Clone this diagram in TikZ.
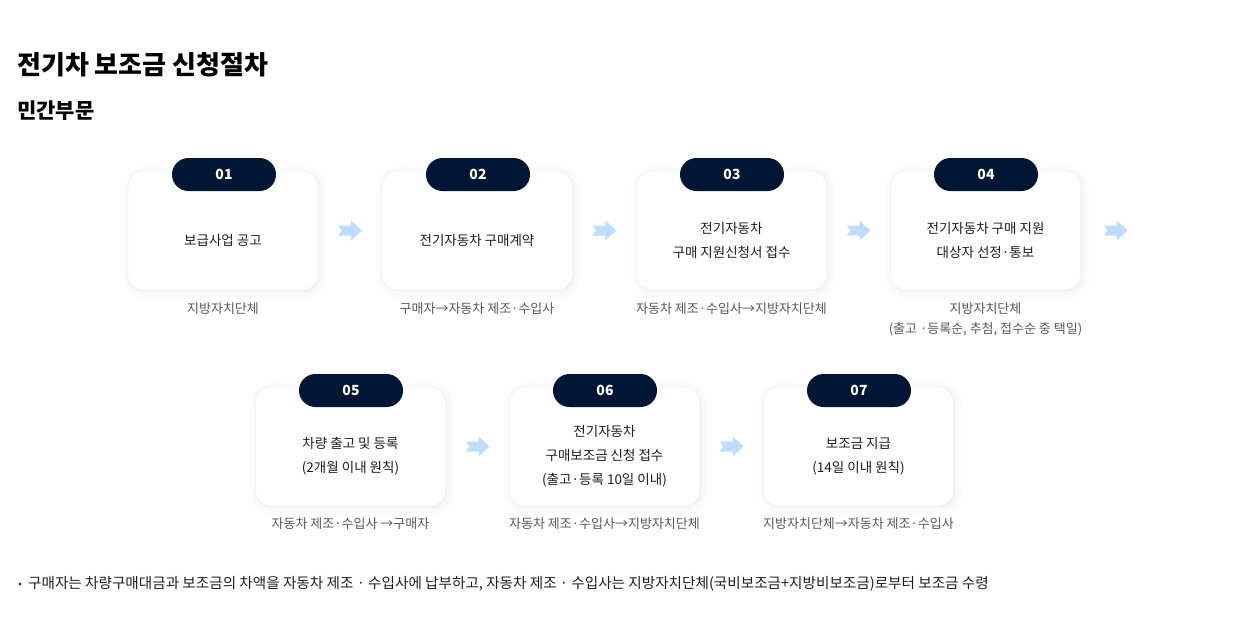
\documentclass[tikz,border=0pt]{standalone}
\usepackage{fontspec}
\setmainfont{Noto Sans CJK KR}
\usepackage{tikz}
\usetikzlibrary{positioning}
\usetikzlibrary{calc}
\usetikzlibrary{shadows.blur}
\definecolor{navy}{RGB}{1,22,52}
\definecolor{sky}{RGB}{190,221,255}
\definecolor{capgray}{RGB}{88,88,88}
\definecolor{ink}{RGB}{30,30,30}
\tikzset{every picture/.style={x=1pt,y=-1pt},
card/.style={draw=black!8,fill=white,rounded corners=15pt,minimum width=190pt,minimum height=119pt,blur shadow={shadow xshift=2pt,shadow yshift=-2pt,shadow blur radius=8pt,shadow opacity=8}},
tab/.style={fill=navy,text=white,rounded corners=16.5pt,minimum width=104pt,minimum height=33pt,inner sep=0pt,font=\fontsize{14}{16}\selectfont\bfseries},
cardtext/.style={align=center,text=ink,inner sep=0pt,font=\fontsize{13.5}{24}\selectfont},
caption/.style={align=center,text=capgray,inner sep=0pt,font=\fontsize{13}{20}\selectfont},
chev/.pic={\fill[sky] (-12,-5) -- (1,-5) -- (1,-10) -- (12,0) -- (1,10) -- (1,5) -- (-12,5) -- (-8,0) -- cycle;}}

\begin{document}
\begin{tikzpicture}
\useasboundingbox (0,0) rectangle (1245,635);
\node[anchor=west,inner sep=0pt,font=\fontsize{26}{30}\selectfont\bfseries] (title) at (17,65) {전기차 보조금 신청절차};
\node[anchor=west,inner sep=0pt,font=\fontsize{21}{24}\selectfont\bfseries] (sub) at (17,111) {민간부문};
% first row
\node[card] (b1) at (223,230.5) {};
\node[card] (b2) at (477,230.5) {};
\node[card] (b3) at (731.5,230.5) {};
\node[card] (b4) at (985.5,230.5) {};
\node[tab] (t1) at (224,174.5) {01};
\node[tab] (t2) at (478,174.5) {02};
\node[tab] (t3) at (732,174.5) {03};
\node[tab] (t4) at (986,174.5) {04};
\node[cardtext] at ($(b1.center)+(0,9.5)$) {보급사업 공고};
\node[cardtext] at ($(b2.center)+(0,9.5)$) {전기자동차 구매계약};
\node[cardtext] at ($(b3.center)+(0,9.5)$) {전기자동차\\구매 지원신청서 접수};
\node[cardtext] at ($(b4.center)+(0,9.5)$) {전기자동차 구매 지원\\대상자 선정·통보};
\node[caption,below=12pt of b1] (c1) {지방자치단체};
\node[caption,below=12pt of b2] (c2) {구매자→자동차 제조·수입사};
\node[caption,below=12pt of b3] (c3) {자동차 제조·수입사→지방자치단체};
\node[caption,below=12pt of b4] (c4) {지방자치단체\\(출고 ·등록순, 추첨, 접수순 중 택일)};
\pic at ($(b1.east)!0.5!(b2.west)$) {chev};
\pic at ($(b2.east)!0.5!(b3.west)$) {chev};
\pic at ($(b3.east)!0.5!(b4.west)$) {chev};
\pic at ($(b4.east)+(35,0)$) {chev};
% second row
\node[card] (b5) at (350.5,446.5) {};
\node[card] (b6) at (604.5,446.5) {};
\node[card] (b7) at (858.5,446.5) {};
\node[tab] (t5) at (351,390.5) {05};
\node[tab] (t6) at (605,390.5) {06};
\node[tab] (t7) at (859,390.5) {07};
\node[cardtext] at ($(b5.center)+(0,9.5)$) {차량 출고 및 등록\\(2개월 이내 원칙)};
\node[cardtext] at ($(b6.center)+(0,9.5)$) {전기자동차\\구매보조금 신청 접수\\(출고·등록 10일 이내)};
\node[cardtext] at ($(b7.center)+(0,9.5)$) {보조금 지급\\(14일 이내 원칙)};
\node[caption,below=11pt of b5] (c5) {자동차 제조·수입사 →구매자};
\node[caption,below=11pt of b6] (c6) {자동차 제조·수입사→지방자치단체};
\node[caption,below=11pt of b7] (c7) {지방자치단체→자동차 제조·수입사};
\pic at ($(b5.east)!0.5!(b6.west)$) {chev};
\pic at ($(b6.east)!0.5!(b7.west)$) {chev};
% note
\node[text=ink,inner sep=0pt,font=\fontsize{10}{12}\selectfont] (dot) at (20,585) {•};
\node[anchor=west,text=ink,inner sep=0pt,font=\fontsize{14.6}{16}\selectfont] (note) at (28,584) {구매자는 차량구매대금과 보조금의 차액을 자동차 제조 · 수입사에 납부하고, 자동차 제조 · 수입사는 지방자치단체(국비보조금+지방비보조금)로부터 보조금 수령};
\end{tikzpicture}
\end{document}
